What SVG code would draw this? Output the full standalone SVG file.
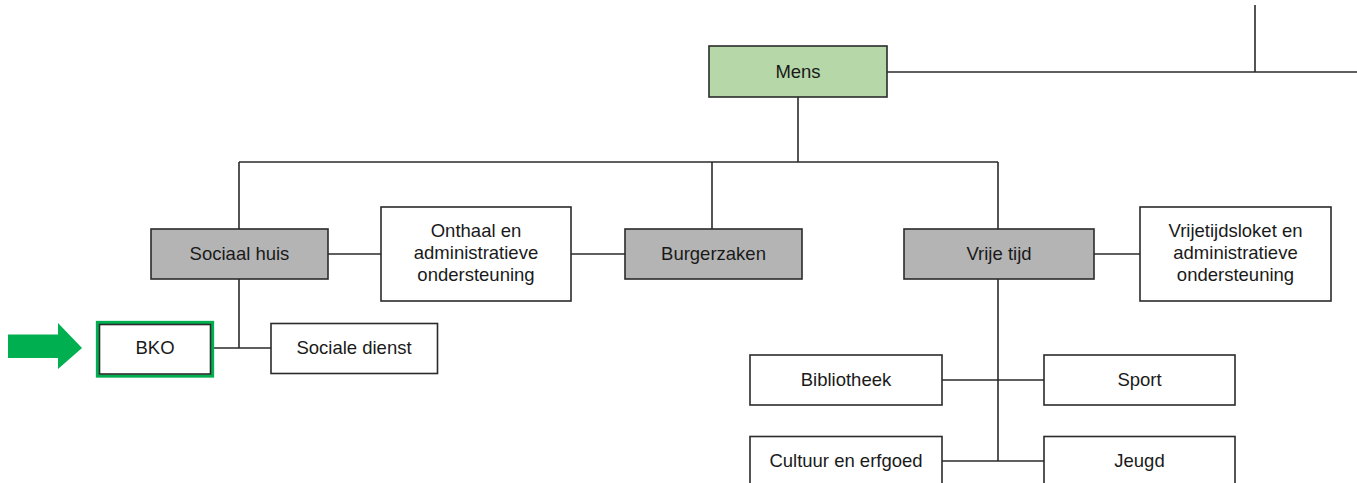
<svg xmlns="http://www.w3.org/2000/svg" width="1357" height="483" viewBox="0 0 1357 483">
<style>
.box{fill:#fff;stroke:#2b2b2b;stroke-width:1.6}
.gray{fill:#b4b4b4}
.green{fill:#b6d7a8}
.t{font-family:"Liberation Sans",Arial,sans-serif;font-size:18.5px;fill:#1a1a1a;text-anchor:middle}
.c{stroke:#2b2b2b;stroke-width:1.6;fill:none}
</style>
<rect width="1357" height="483" fill="#fff"/>
<g id="connectors">
<path class="c" d="M798 97V162M239 162H998M239 162V229M712 162V229M998 162V229"/>
<path class="c" d="M887 72H1357M1255 5V72"/>
<path class="c" d="M328 254H381M571 254H625M1094 254H1140"/>
<path class="c" d="M239 279V348M210 348H271"/>
<path class="c" d="M998 279V461M942 380H1044M942 461H1044"/>
</g>
<g id="mens"><rect class="box green" x="709" y="46" width="178" height="51"/><text class="t" x="798" y="78">Mens</text></g>
<g id="sociaal-huis"><rect class="box gray" x="151" y="229" width="177" height="50"/><text class="t" x="239.5" y="260">Sociaal huis</text></g>
<g id="onthaal"><rect class="box" x="381" y="207" width="190" height="94"/><text class="t" x="476" y="237">Onthaal en</text><text class="t" x="476" y="259">administratieve</text><text class="t" x="476" y="281">ondersteuning</text></g>
<g id="burgerzaken"><rect class="box gray" x="625" y="229" width="177" height="50"/><text class="t" x="713.5" y="260">Burgerzaken</text></g>
<g id="vrije-tijd"><rect class="box gray" x="904" y="229" width="190" height="50"/><text class="t" x="999" y="260">Vrije tijd</text></g>
<g id="vrijetijdsloket"><rect class="box" x="1140" y="207" width="191" height="94"/><text class="t" x="1235.5" y="237">Vrijetijdsloket en</text><text class="t" x="1235.5" y="259">administratieve</text><text class="t" x="1235.5" y="281">ondersteuning</text></g>
<g id="bko"><rect x="97.5" y="322.5" width="115" height="53.5" fill="none" stroke="#00b050" stroke-width="3.3"/><rect class="box" x="99.5" y="324.5" width="111" height="49.5"/><text class="t" x="155" y="354">BKO</text></g>
<g id="sociale-dienst"><rect class="box" x="271" y="323.5" width="166.5" height="50"/><text class="t" x="354" y="354">Sociale dienst</text></g>
<g id="bibliotheek"><rect class="box" x="750" y="355" width="192" height="50"/><text class="t" x="846" y="386">Bibliotheek</text></g>
<g id="sport"><rect class="box" x="1044" y="355" width="191" height="50"/><text class="t" x="1139.5" y="386">Sport</text></g>
<g id="cultuur"><rect class="box" x="750" y="436.5" width="192" height="55"/><text class="t" x="846" y="467">Cultuur en erfgoed</text></g>
<g id="jeugd"><rect class="box" x="1044" y="436.5" width="191" height="55"/><text class="t" x="1139.5" y="467">Jeugd</text></g>
<g id="arrow"><polygon points="8,334.5 58,334.5 58,323 82,348 58,369 58,358 8,358" fill="#00b050"/></g>
</svg>
